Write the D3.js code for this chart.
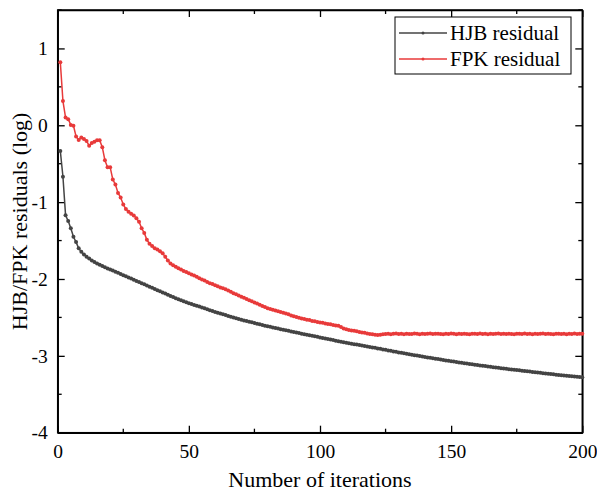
<!DOCTYPE html>
<html>
<head>
<meta charset="utf-8">
<script src="https://cdn.jsdelivr.net/npm/d3@7"></script>
<style>
  body { margin: 0; background: #fff; }
  svg { display: block; font-family: "Liberation Serif", "Times New Roman", serif; }
</style>
</head>
<body>
<svg id="drawing_region"></svg>
<script>
// iteration residuals (log10), one value per iteration 1..200
const hjb = [
  -0.335,-0.67,-1.17,-1.245,-1.34,-1.45,-1.52,-1.60,-1.645,-1.68,
  -1.71,-1.735,-1.76,-1.78,-1.80,-1.815,-1.83,-1.848,-1.862,-1.876,
  -1.89,-1.905,-1.92,-1.935,-1.95,-1.965,-1.98,-1.995,-2.01,-2.025,
  -2.04,-2.055,-2.07,-2.085,-2.10,-2.115,-2.13,-2.145,-2.16,-2.175,
  -2.19,-2.205,-2.22,-2.235,-2.25,-2.263,-2.276,-2.289,-2.302,-2.315,
  -2.326,-2.337,-2.348,-2.359,-2.37,-2.382,-2.394,-2.406,-2.418,-2.43,
  -2.44,-2.45,-2.46,-2.47,-2.48,-2.49,-2.50,-2.51,-2.52,-2.53,
  -2.539,-2.547,-2.556,-2.564,-2.573,-2.581,-2.59,-2.598,-2.607,-2.615,
  -2.623,-2.63,-2.638,-2.645,-2.653,-2.66,-2.668,-2.675,-2.683,-2.69,
  -2.697,-2.704,-2.711,-2.718,-2.725,-2.732,-2.739,-2.746,-2.753,-2.76,
  -2.767,-2.774,-2.781,-2.788,-2.795,-2.802,-2.809,-2.816,-2.823,-2.83,
  -2.836,-2.842,-2.848,-2.854,-2.86,-2.866,-2.872,-2.878,-2.884,-2.89,
  -2.896,-2.903,-2.909,-2.916,-2.922,-2.929,-2.935,-2.942,-2.948,-2.955,
  -2.961,-2.967,-2.973,-2.979,-2.985,-2.991,-2.997,-3.003,-3.009,-3.015,
  -3.02,-3.026,-3.031,-3.037,-3.042,-3.048,-3.053,-3.059,-3.064,-3.07,
  -3.075,-3.08,-3.085,-3.09,-3.095,-3.10,-3.105,-3.11,-3.115,-3.12,
  -3.124,-3.129,-3.133,-3.138,-3.142,-3.147,-3.151,-3.156,-3.16,-3.165,
  -3.169,-3.173,-3.177,-3.181,-3.185,-3.189,-3.193,-3.197,-3.201,-3.205,
  -3.209,-3.213,-3.217,-3.221,-3.225,-3.229,-3.233,-3.237,-3.241,-3.245,
  -3.248,-3.252,-3.255,-3.259,-3.262,-3.266,-3.269,-3.273,-3.276,-3.28
];

const fpk = [
  0.82,0.315,0.10,0.08,0.005,-0.005,-0.145,-0.19,-0.16,-0.18,
  -0.205,-0.265,-0.23,-0.215,-0.195,-0.195,-0.285,-0.455,-0.545,-0.545,
  -0.705,-0.77,-0.88,-0.94,-1.03,-1.09,-1.125,-1.15,-1.175,-1.21,
  -1.255,-1.34,-1.40,-1.49,-1.54,-1.57,-1.60,-1.615,-1.64,-1.665,
  -1.71,-1.76,-1.80,-1.82,-1.84,-1.86,-1.875,-1.895,-1.91,-1.925,
  -1.94,-1.955,-1.97,-1.99,-2.005,-2.02,-2.04,-2.055,-2.065,-2.08,
  -2.095,-2.11,-2.12,-2.135,-2.15,-2.165,-2.185,-2.20,-2.215,-2.23,
  -2.245,-2.26,-2.275,-2.29,-2.305,-2.32,-2.335,-2.35,-2.365,-2.38,
  -2.39,-2.40,-2.41,-2.42,-2.43,-2.44,-2.45,-2.46,-2.475,-2.485,
  -2.495,-2.505,-2.515,-2.52,-2.53,-2.535,-2.545,-2.55,-2.56,-2.565,
  -2.57,-2.58,-2.585,-2.59,-2.60,-2.605,-2.61,-2.625,-2.645,-2.655,
  -2.665,-2.67,-2.675,-2.68,-2.69,-2.695,-2.70,-2.71,-2.715,-2.72,
  -2.725,-2.73,-2.725,-2.72,-2.715,-2.712,-2.718,-2.714,-2.709,-2.716,
  -2.713,-2.719,-2.711,-2.715,-2.717,-2.71,-2.714,-2.718,-2.712,-2.716,
  -2.713,-2.709,-2.717,-2.714,-2.711,-2.716,-2.719,-2.712,-2.715,-2.71,
  -2.714,-2.718,-2.713,-2.716,-2.711,-2.715,-2.719,-2.712,-2.714,-2.717,
  -2.71,-2.715,-2.713,-2.718,-2.711,-2.716,-2.714,-2.709,-2.717,-2.713,
  -2.716,-2.712,-2.715,-2.719,-2.711,-2.714,-2.717,-2.71,-2.715,-2.713,
  -2.718,-2.712,-2.716,-2.714,-2.71,-2.717,-2.713,-2.715,-2.719,-2.711,
  -2.714,-2.716,-2.712,-2.718,-2.713,-2.715,-2.71,-2.716,-2.714,-2.712
];

const seriesNames = ['HJB residual', 'FPK residual'];
const seriesColors = ['#444444', '#e83a3a'];
const xTicks = [0, 50, 100, 150, 200];
const yTicks = [-4, -3, -2, -1, 0, 1];

const config = {
    parent: '#drawing_region',
    width: 597,
    height: 491,
    margin: {top: 10, right: 14.7, bottom: 58.3, left: 57.7}
};

class LineChart {

    constructor(config, series) {
        this.config = config;
        this.series = series;
        this.init();
    }

    init() {
        let self = this;
        self.svg = d3.select(self.config.parent)
            .attr('width', self.config.width)
            .attr('height', self.config.height);

        self.inner_width = self.config.width - self.config.margin.left - self.config.margin.right;
        self.inner_height = self.config.height - self.config.margin.top - self.config.margin.bottom;

        self.chart = self.svg.append('g')
            .attr('transform', `translate(${self.config.margin.left}, ${self.config.margin.top})`);

        self.xscale = d3.scaleLinear().domain([0, 200]).range([0, self.inner_width]);
        self.yscale = d3.scaleLinear().domain([-4, 1.5]).range([self.inner_height, 0]);
    }

    render() {
        let self = this;
        const w = self.inner_width, h = self.inner_height;
        const fmt = d => String(d);
        const minorX = d3.range(25, 200, 50);
        const minorY = d3.range(-3.5, 1.6, 1);

        // axes, ticks pointing inward on all four sides
        const bottom = self.chart.append('g').attr('transform', `translate(0, ${h})`)
            .call(d3.axisBottom(self.xscale).tickValues(xTicks).tickFormat(fmt).tickSizeInner(-7).tickSizeOuter(0).tickPadding(11));
        const top = self.chart.append('g')
            .call(d3.axisTop(self.xscale).tickValues(xTicks).tickFormat('').tickSizeInner(-7).tickSizeOuter(0));
        const left = self.chart.append('g')
            .call(d3.axisLeft(self.yscale).tickValues(yTicks).tickFormat(fmt).tickSizeInner(-7).tickSizeOuter(0).tickPadding(10));
        const right = self.chart.append('g').attr('transform', `translate(${w}, 0)`)
            .call(d3.axisRight(self.yscale).tickValues(yTicks).tickFormat('').tickSizeInner(-7).tickSizeOuter(0));

        // minor ticks
        bottom.selectAll('.minor').data(minorX).enter().append('line')
            .attr('x1', d => self.xscale(d)).attr('x2', d => self.xscale(d)).attr('y1', 0).attr('y2', -4);
        top.selectAll('.minor').data(minorX).enter().append('line')
            .attr('x1', d => self.xscale(d)).attr('x2', d => self.xscale(d)).attr('y1', 0).attr('y2', 4);
        left.selectAll('.minor').data(minorY).enter().append('line')
            .attr('y1', d => self.yscale(d)).attr('y2', d => self.yscale(d)).attr('x1', 0).attr('x2', 4);
        right.selectAll('.minor').data(minorY).enter().append('line')
            .attr('y1', d => self.yscale(d)).attr('y2', d => self.yscale(d)).attr('x1', 0).attr('x2', -4);

        [bottom, top, left, right].forEach(g => {
            g.selectAll('path.domain').attr('stroke', '#000').attr('stroke-width', 1.5);
            g.selectAll('line').attr('stroke', '#000').attr('stroke-width', 1.3);
            g.selectAll('text').attr('font-size', '19.5px').attr('fill', '#000')
                .attr('font-family', '"Liberation Serif", serif');
        });

        // frame
        self.chart.append('rect')
            .attr('width', w).attr('height', h)
            .attr('fill', 'none').attr('stroke', '#000').attr('stroke-width', 1.5);

        // series
        const line = d3.line()
            .x((d, i) => self.xscale(i + 1))
            .y(d => self.yscale(d));

        self.series.forEach((s, k) => {
            self.chart.append('path')
                .datum(s)
                .attr('d', line)
                .attr('fill', 'none')
                .attr('stroke', seriesColors[k])
                .attr('stroke-width', 1.5);

            self.chart.append('g').selectAll('circle')
                .data(s)
                .enter()
                .append('circle')
                .attr('cx', (d, i) => self.xscale(i + 1))
                .attr('cy', d => self.yscale(d))
                .attr('r', 2)
                .attr('fill', seriesColors[k]);
        });

        // axis titles
        self.svg.append('text')
            .attr('x', self.config.margin.left + w / 2)
            .attr('y', 487)
            .attr('text-anchor', 'middle')
            .attr('font-size', '22px')
            .text('Number of iterations');

        self.svg.append('text')
            .attr('transform', `translate(27, ${self.config.margin.top + h / 2}) rotate(-90)`)
            .attr('text-anchor', 'middle')
            .attr('font-size', '22px')
            .text('HJB/FPK residuals (log)');

        // legend
        const legend = self.svg.append('g').attr('transform', 'translate(395, 17)');
        legend.append('rect')
            .attr('width', 176).attr('height', 57)
            .attr('fill', '#fff').attr('stroke', '#000').attr('stroke-width', 1);

        seriesNames.forEach((name, k) => {
            const y = 16 + k * 26;
            legend.append('line')
                .attr('x1', 4).attr('x2', 52).attr('y1', y).attr('y2', y)
                .attr('stroke', seriesColors[k]).attr('stroke-width', 1.3);
            legend.append('circle')
                .attr('cx', 28).attr('cy', y).attr('r', 1.5)
                .attr('fill', seriesColors[k]);
            legend.append('text')
                .attr('x', 55).attr('y', y + 7)
                .attr('font-size', '21px')
                .text(name);
        });
    }
}

const chart = new LineChart(config, [hjb, fpk]);
chart.render();
</script>
</body>
</html>
